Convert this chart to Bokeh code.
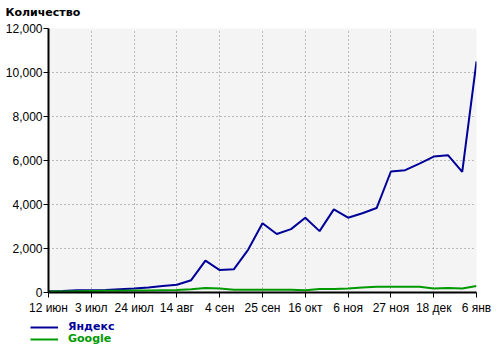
from bokeh.plotting import figure
from bokeh.layouts import column
from bokeh.models import (FixedTicker, NumeralTickFormatter, Range1d, Legend, LegendItem, Label)
from bokeh.embed import file_html
from bokeh.resources import INLINE

# weekly points starting 12 июн
weeks = list(range(31))
yandex = [60, 70, 100, 100, 110, 150, 180, 230, 290, 350, 560, 1450, 1020, 1060, 1950,
          3150, 2660, 2880, 3400, 2790, 3780, 3400, 3600, 3840, 5500, 5560, 5860, 6180,
          6240, 5480, 10500]
google = [40, 50, 60, 70, 80, 80, 90, 90, 100, 110, 150, 200, 180, 120, 120, 120, 120,
          120, 100, 160, 160, 180, 230, 260, 260, 260, 260, 180, 200, 180, 300]
tick_pos = [0, 3, 6, 9, 12, 15, 18, 21, 24, 27, 30]
tick_labels = ["12 июн", "3 июл", "24 июл", "14 авг", "4 сен", "25 сен", "16 окт",
               "6 ноя", "27 ноя", "18 дек", "6 янв"]
y_ticks = [0, 2000, 4000, 6000, 8000, 10000, 12000]
series_names = ["Яндекс", "Google"]
series_colors = ["#000099", "#009900"]
title_text = "Количество"


def strip(height, xr, yr):
    f = figure(width=500, height=height, output_backend="svg", toolbar_location=None,
               x_range=xr, y_range=yr, x_axis_location=None, y_axis_location=None,
               min_border_left=0, min_border_right=0, min_border_top=0, min_border_bottom=0)
    f.frame_align = False
    f.grid.visible = False
    f.outline_line_color = None
    f.background_fill_color = "white"
    f.border_fill_color = "white"
    return f


# title strip (coordinates in pixels of the strip)
tf = strip(18, Range1d(0, 500), Range1d(0, 18))
tf.add_layout(Label(x=5, y=6, text=title_text, text_font="DejaVu Sans",
                    text_font_style="bold", text_font_size="11px", text_color="black",
                    text_baseline="middle", text_align="left"))

p = figure(width=500, height=300, output_backend="svg", toolbar_location=None,
           x_range=Range1d(0, 30), y_range=Range1d(0, 12000),
           min_border_left=48, min_border_right=24, min_border_top=10, min_border_bottom=26)
p.frame_align = False
p.background_fill_color = "#f4f4f4"
p.border_fill_color = "white"
p.outline_line_color = None

ry = p.line(weeks, yandex, line_color=series_colors[0], line_width=2)
rg = p.line(weeks, google, line_color=series_colors[1], line_width=2)

FONT = "Liberation Sans"
for ax in (p.xaxis[0], p.yaxis[0]):
    ax.axis_line_color = "black"
    ax.axis_line_width = 2
    ax.major_tick_line_color = "black"
    ax.major_tick_out = 5
    ax.major_tick_in = 0
    ax.minor_tick_line_color = None
    ax.major_label_text_font = FONT
    ax.major_label_text_font_size = "12px"
    ax.major_label_text_color = "black"

p.xaxis.ticker = FixedTicker(ticks=tick_pos)
p.xaxis.major_label_overrides = {t: l for t, l in zip(tick_pos, tick_labels)}
p.xaxis.major_label_standoff = 3
p.yaxis.ticker = FixedTicker(ticks=y_ticks)
p.yaxis.formatter = NumeralTickFormatter(format="0,0")
p.yaxis.major_label_standoff = 1

for g in (p.xgrid[0], p.ygrid[0]):
    g.grid_line_color = "#808080"
    g.grid_line_dash = "1 3"
    g.grid_line_width = 1

# legend strip below the chart (series lines kept out of its view; only the legend shows)
lf = strip(33, Range1d(0, 30), Range1d(-2, -1))
for vals, name, col, vy in ((yandex, series_names[0], series_colors[0], 18),
                            (google, series_names[1], series_colors[1], 6)):
    r = lf.line(weeks, vals, line_color=col, line_width=2)
    lg = Legend(items=[LegendItem(label=name, renderers=[r])], location=(30, vy),
                orientation="vertical", margin=0, padding=0, spacing=0,
                glyph_width=28, glyph_height=12, label_height=12, label_standoff=10,
                label_text_font="DejaVu Sans", label_text_font_style="bold",
                label_text_font_size="11px", label_text_color=col,
                border_line_color=None, background_fill_alpha=0)
    lf.add_layout(lg, "center")

open("out.html", "w").write(file_html(column(tf, p, lf, spacing=0), INLINE))
